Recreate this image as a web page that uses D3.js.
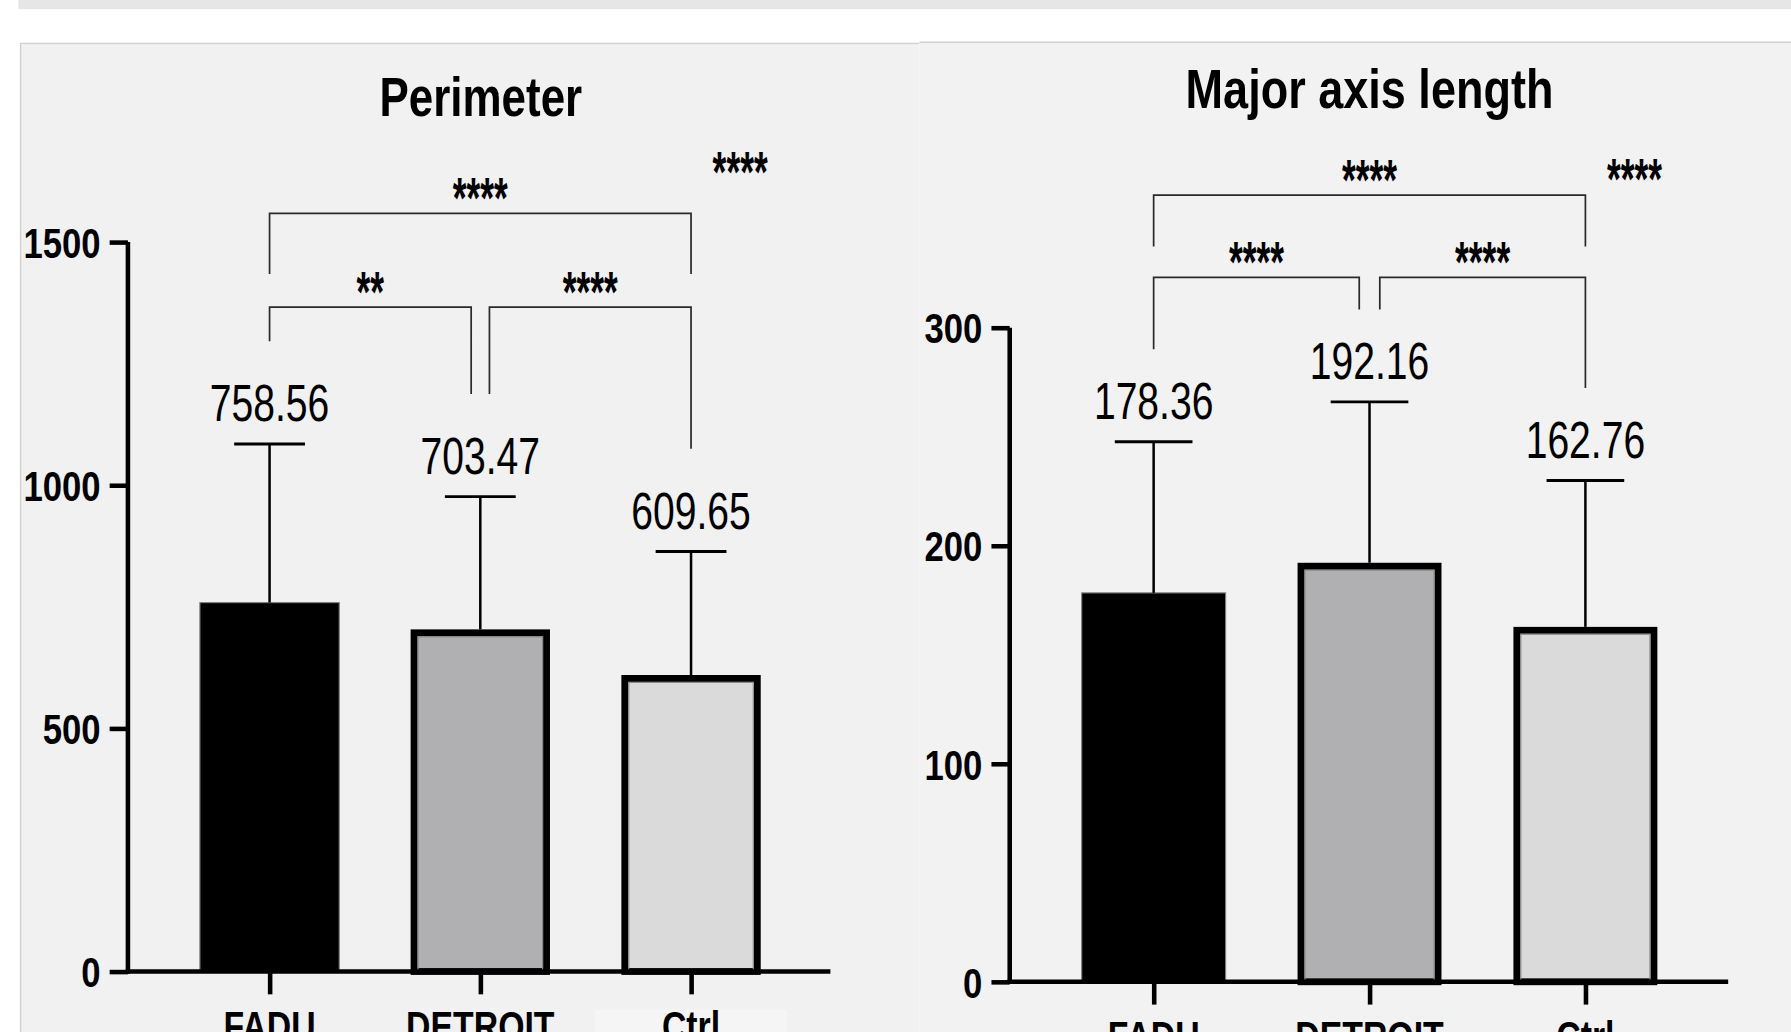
<!DOCTYPE html>
<html>
<head>
<meta charset="utf-8">
<script src="https://cdn.jsdelivr.net/npm/d3@7"></script>
<style>
  body { margin: 0; background: #fff; overflow: hidden; }
</style>
</head>
<body>
<div id="chart"></div>
<script>
var categories = ['FADU', 'DETROIT', 'Ctrl']

var perimeterMean = [758.56, 703.47, 609.65]
var perimeterSD = [326, 273, 254]
var perimeterTicks = [0, 500, 1000, 1500]

var majorMean = [178.36, 192.16, 162.76]
var majorSD = [69.3, 73.8, 67.1]
var majorTicks = [0, 100, 200, 300]

// pairwise comparisons: index pairs + stars
var perimeterSig = [
  { a: 0, b: 2, label: '****', high: true },
  { a: 0, b: 1, label: '**' },
  { a: 1, b: 2, label: '****' }
]
var majorSig = [
  { a: 0, b: 2, label: '****', high: true },
  { a: 0, b: 1, label: '****' },
  { a: 1, b: 2, label: '****' }
]
var overallSig = ['****', '****']

var fills = ['#000000', '#b0b0b2', '#dadada']

var FONT = '"Liberation Sans", Arial, sans-serif'

// drawn in the 1568x904 frame, stretched to the window
var svg = d3.select('#chart').append('svg')
  .attr('width', 1791)
  .attr('height', 1032)
  .attr('viewBox', '0 0 1568 904')
  .attr('preserveAspectRatio', 'none')

svg.append('rect').attr('x', 16).attr('y', 0).attr('width', 1552).attr('height', 8).attr('fill', '#e6e6e6')

function label(g, x, y, s, size, weight, sx) {
  return g.append('text')
    .attr('transform', 'translate(' + x + ',' + y + ') scale(' + sx + ',1)')
    .attr('text-anchor', 'middle')
    .attr('font-family', FONT)
    .attr('font-size', size)
    .attr('font-weight', weight)
    .attr('fill', '#000')
    .text(s)
}

function drawPanel(p) {
  var g = svg.append('g')

  g.append('rect')
    .attr('x', p.x0).attr('y', p.top)
    .attr('width', p.x1 - p.x0).attr('height', 904 - p.top)
    .attr('fill', p.bg)
  g.append('path')
    .attr('d', p.leftEdge ? 'M' + p.x0 + ',904V' + p.top + 'H' + p.x1 : 'M' + p.x0 + ',' + p.top + 'H' + p.x1)
    .attr('fill', 'none')
    .attr('stroke', '#cfcfcf')
    .attr('stroke-width', 1.2)

  var y = d3.scaleLinear().domain([0, p.max]).range([p.yBottom, p.yTop])
  var x = d3.scalePoint().domain(categories).range([p.xFirst, p.xLast])
  var bw = p.barW

  label(g, p.titleX, p.titleY, p.title, 49, 'bold', p.titleScale)

  // light box behind the Ctrl label
  if (p.ctrlBox) {
    g.append('rect')
      .attr('x', x('Ctrl') - 84).attr('y', 884)
      .attr('width', 168).attr('height', 20)
      .attr('fill', '#f5f5f5')
  }

  // bars
  var bars = g.append('g')
  categories.forEach(function(c, i) {
    var top = y(p.mean[i])
    if (i === 0) {
      bars.append('rect')
        .attr('x', x(c) - bw / 2).attr('y', top)
        .attr('width', bw).attr('height', p.yBottom - top)
        .attr('fill', fills[i])
        .attr('stroke', '#808080').attr('stroke-width', 1)
    } else {
      bars.append('rect')
        .attr('x', x(c) - bw / 2 + 3).attr('y', top + 3)
        .attr('width', bw - 6).attr('height', p.yBottom - top - 3)
        .attr('fill', fills[i])
        .attr('stroke', '#000').attr('stroke-width', 6)
      bars.append('rect')
        .attr('x', x(c) - bw / 2 + 6.5).attr('y', top + 6.5)
        .attr('width', bw - 13).attr('height', p.yBottom - top - 6.5)
        .attr('fill', 'none')
        .attr('stroke', '#8a8a8a').attr('stroke-width', 1)
    }

    // error bar (upper only)
    var et = y(p.mean[i] + p.sd[i])
    bars.append('line')
      .attr('x1', x(c)).attr('x2', x(c))
      .attr('y1', top).attr('y2', et)
      .attr('stroke', '#000').attr('stroke-width', 2.2)
    bars.append('line')
      .attr('x1', x(c) - p.capW / 2).attr('x2', x(c) + p.capW / 2)
      .attr('y1', et).attr('y2', et)
      .attr('stroke', '#000').attr('stroke-width', 2.6)

    label(g, x(c), et - 20, p.mean[i].toFixed(2), 45, 'normal', 0.76)
  })

  // y axis
  var ya = g.append('g')
    .attr('transform', 'translate(' + p.axisX + ',0)')
    .call(d3.axisLeft(y).tickValues(p.ticks).tickFormat(d3.format('d'))
      .tickSize(16).tickSizeOuter(0).tickPadding(8))
  ya.select('.domain').attr('stroke-width', 4).attr('stroke', '#000')
    .attr('d', 'M0,' + p.yTop + 'V' + (p.yBottom + 2))
  ya.selectAll('.tick line').attr('stroke-width', 4).attr('stroke', '#000')
  ya.selectAll('.tick text')
    .attr('font-family', FONT).attr('font-size', 37).attr('font-weight', 'bold')
    .attr('fill', '#000')
    .attr('x', -24 / 0.82).attr('dy', '0.36em')
    .attr('transform', 'scale(0.82,1)')

  // x axis
  g.append('line')
    .attr('x1', p.axisX - 2).attr('x2', p.axisEnd)
    .attr('y1', p.yBottom).attr('y2', p.yBottom)
    .attr('stroke', '#000').attr('stroke-width', 4)
  var xa = g.append('g')
    .attr('transform', 'translate(0,' + p.yBottom + ')')
    .call(d3.axisBottom(x).tickSize(20).tickSizeOuter(0).tickFormat(''))
  xa.select('.domain').remove()
  xa.selectAll('.tick line').attr('stroke-width', 4).attr('stroke', '#000')
  categories.forEach(function(c) {
    label(g, x(c), p.yBottom + 61, c, 37, 'bold', 0.8)
  })

  // significance brackets
  var errTop = function(i) { return y(p.mean[i] + p.sd[i]) }
  p.sig.forEach(function(s) {
    var xa0 = x(categories[s.a]), xb0 = x(categories[s.b])
    var yy, la, lb
    if (s.high) {
      yy = p.highY
      la = p.highLeg
      lb = p.highLeg
    } else {
      yy = p.lowY
      if (s.a === 1) xa0 += p.split
      if (s.b === 1) xb0 -= p.split
      la = errTop(s.a) - p.legGap
      lb = errTop(s.b) - p.legGap
    }
    g.append('path')
      .attr('d', 'M' + xa0 + ',' + la + 'V' + yy + 'H' + xb0 + 'V' + lb)
      .attr('fill', 'none')
      .attr('stroke', '#2a2a2a')
      .attr('stroke-width', 1.5)
    label(g, (xa0 + xb0) / 2, yy + 4, s.label, 50, 'bold', 0.62)
  })

  label(g, x('Ctrl') + 43, p.overallY, p.overall, 50, 'bold', 0.62)
}

drawPanel({
  x0: 18, x1: 805, top: 38, bg: '#f1f1f1', leftEdge: true, ctrlBox: true,
  title: 'Perimeter', titleX: 421, titleY: 102, titleScale: 0.785,
  mean: perimeterMean, sd: perimeterSD, ticks: perimeterTicks, max: 1500,
  axisX: 112, axisEnd: 727, yTop: 212, yBottom: 851,
  xFirst: 236, xLast: 605, barW: 122, capW: 62,
  sig: perimeterSig, highY: 187, highLeg: 240, lowY: 269, legGap: 90, split: 8,
  overall: overallSig[0], overallY: 168
})

drawPanel({
  x0: 805, x1: 1568, top: 37, bg: '#f2f2f2', leftEdge: false, ctrlBox: false,
  title: 'Major axis length', titleX: 1199, titleY: 95, titleScale: 0.805,
  mean: majorMean, sd: majorSD, ticks: majorTicks, max: 300,
  axisX: 884, axisEnd: 1513, yTop: 287, yBottom: 860,
  xFirst: 1010, xLast: 1388, barW: 126, capW: 68,
  sig: majorSig, highY: 171, highLeg: 216, lowY: 243, legGap: 81, split: 9,
  overall: overallSig[1], overallY: 174
})
</script>
</body>
</html>
